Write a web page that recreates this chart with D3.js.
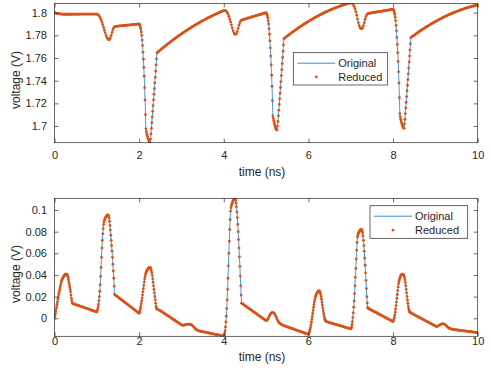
<!DOCTYPE html>
<html><head><meta charset="utf-8">
<script src="https://cdn.jsdelivr.net/npm/d3@7"></script>
<style>
body{margin:0;background:#fff}
svg{display:block}
text{font-family:"Liberation Sans",Arial,Helvetica,sans-serif;fill:#262626}
</style>
</head><body>
<svg id="chart" width="491" height="372"></svg>
<script>
// ---- data: base samples every 0.02 ns (t = 0 .. 10 ns) ----
const timeStep = 0.02;
const topVoltage = [
1.8000,1.7998,1.7996,1.7994,1.7992,1.7991,1.7990,1.7989,1.7988,1.7987,1.7987,1.7986,
1.7986,1.7986,1.7986,1.7986,1.7986,1.7986,1.7986,1.7986,1.7986,
1.7987,1.7987,1.7987,1.7987,1.7987,1.7987,1.7987,1.7987,1.7987,1.7987,
1.7988,1.7988,1.7988,1.7988,1.7988,1.7988,1.7988,1.7988,1.7988,1.7988,1.7988,1.7988,1.7988,1.7988,1.7988,1.7988,1.7988,1.7988,1.7988,1.7988,
1.7985,1.7978,1.7968,1.7955,1.7938,1.7918,1.7895,1.7870,1.7845,1.7820,1.7798,1.7780,1.7768,1.7762,1.7765,1.7778,1.7800,1.7826,1.7850,1.7868,1.7876,1.7879,
1.7880,1.7881,1.7881,1.7882,1.7883,1.7884,1.7884,1.7885,1.7886,1.7887,1.7887,1.7888,1.7889,1.7890,1.7890,1.7891,1.7892,1.7893,1.7893,1.7894,1.7895,1.7896,1.7896,1.7897,1.7898,1.7899,1.7899,1.7900,
1.7885,1.7855,1.7800,1.7710,1.7590,1.7440,1.7230,1.6975,1.6930,1.6905,1.6880,1.6862,1.6852,1.6930,1.7030,1.7130,1.7230,1.7330,1.7430,1.7540,1.7645,
1.7651,1.7658,1.7664,1.7670,1.7677,1.7683,1.7689,1.7695,1.7701,1.7707,1.7713,1.7719,1.7725,1.7730,1.7736,1.7742,1.7748,1.7753,1.7759,1.7765,
1.7770,1.7776,1.7781,1.7786,1.7792,1.7797,1.7802,1.7808,1.7813,1.7818,1.7823,1.7828,1.7833,1.7838,1.7843,1.7848,1.7853,1.7857,1.7862,1.7867,
1.7872,1.7876,1.7881,1.7885,1.7890,1.7894,1.7899,1.7903,1.7908,1.7912,1.7916,1.7920,1.7925,1.7929,1.7933,1.7937,1.7941,1.7945,1.7949,1.7953,
1.7956,1.7960,1.7964,1.7968,1.7971,1.7975,1.7978,1.7982,1.7985,1.7989,1.7992,1.7996,1.7999,1.8002,1.8006,1.8009,1.8012,1.8015,1.8018,
1.8020,1.8018,1.8012,1.8002,1.7988,1.7968,1.7945,1.7920,1.7893,1.7865,1.7840,1.7820,1.7810,1.7809,1.7816,1.7835,1.7862,1.7890,1.7913,1.7928,1.7935,
1.7937,1.7940,1.7942,1.7944,1.7946,1.7948,1.7951,1.7953,1.7955,1.7957,1.7960,1.7962,1.7964,1.7966,1.7968,1.7971,1.7973,1.7975,1.7977,1.7980,1.7982,1.7984,1.7986,1.7989,1.7991,1.7993,1.7995,1.7998,1.8000,
1.7985,1.7955,1.7900,1.7810,1.7690,1.7540,1.7350,1.7090,1.7050,1.7015,1.6990,1.6972,1.6965,1.7040,1.7140,1.7240,1.7340,1.7445,1.7550,1.7660,1.7770,
1.7776,1.7782,1.7788,1.7794,1.7799,1.7805,1.7811,1.7816,1.7822,1.7828,1.7833,1.7838,1.7844,1.7849,1.7854,1.7860,1.7865,1.7870,1.7875,1.7880,
1.7885,1.7890,1.7895,1.7900,1.7904,1.7909,1.7914,1.7918,1.7923,1.7928,1.7932,1.7936,1.7941,1.7945,1.7949,1.7954,1.7958,1.7962,1.7966,1.7970,
1.7974,1.7978,1.7982,1.7986,1.7989,1.7993,1.7997,1.8000,1.8004,1.8008,1.8011,1.8014,1.8018,1.8021,1.8024,1.8028,1.8031,1.8034,1.8037,1.8040,
1.8043,1.8046,1.8049,1.8052,1.8054,1.8057,1.8060,1.8062,1.8065,1.8068,1.8070,1.8072,1.8075,1.8077,1.8079,1.8082,1.8084,1.8086,1.8088,
1.8087,1.8082,1.8072,1.8056,1.8035,1.8008,1.7978,1.7945,1.7912,1.7885,1.7868,1.7860,1.7859,1.7866,1.7885,1.7912,1.7942,1.7966,1.7982,1.7990,1.7994,
1.7995,1.7996,1.7998,1.7999,1.8000,1.8001,1.8003,1.8004,1.8005,1.8006,1.8008,1.8009,1.8010,1.8011,1.8012,1.8014,1.8015,1.8016,1.8017,1.8019,1.8020,1.8021,1.8022,1.8024,1.8025,1.8026,1.8027,1.8029,1.8030,
1.8015,1.7985,1.7930,1.7840,1.7720,1.7570,1.7380,1.7110,1.7060,1.7030,1.7005,1.6985,1.6980,1.7060,1.7160,1.7260,1.7360,1.7460,1.7565,1.7670,1.7780,
1.7786,1.7791,1.7797,1.7802,1.7807,1.7813,1.7818,1.7823,1.7828,1.7834,1.7839,1.7844,1.7849,1.7854,1.7858,1.7863,1.7868,1.7873,1.7878,1.7882,
1.7887,1.7891,1.7896,1.7900,1.7905,1.7909,1.7913,1.7917,1.7922,1.7926,1.7930,1.7934,1.7938,1.7942,1.7946,1.7950,1.7953,1.7957,1.7961,1.7964,
1.7968,1.7972,1.7975,1.7979,1.7982,1.7985,1.7989,1.7992,1.7995,1.7998,1.8001,1.8004,1.8007,1.8010,1.8013,1.8016,1.8019,1.8022,1.8024,1.8027,
1.8030,1.8032,1.8035,1.8037,1.8040,1.8042,1.8044,1.8047,1.8049,1.8051,1.8053,1.8055,1.8057,1.8059,1.8061,1.8063,1.8065,1.8066,1.8068
];
const bottomVoltage = [
0.0000,0.0040,0.0085,0.0130,0.0175,0.0220,0.0260,0.0300,0.0335,0.0360,0.0375,0.0388,0.0400,0.0407,0.0408,0.0400,0.0375,0.0335,0.0290,0.0245,0.0185,0.0138,
0.0135,0.0132,0.0130,0.0127,0.0124,0.0121,0.0119,0.0116,0.0113,0.0110,0.0108,0.0105,0.0102,0.0099,0.0097,0.0094,0.0091,0.0088,0.0086,0.0083,0.0080,0.0077,0.0075,0.0072,0.0069,0.0066,0.0064,0.0061,0.0058,
0.0085,0.0130,0.0200,0.0310,0.0470,0.0650,0.0780,0.0865,0.0905,0.0925,0.0940,0.0950,0.0954,0.0945,0.0895,0.0815,0.0720,0.0620,0.0500,0.0370,0.0220,
0.0214,0.0208,0.0202,0.0196,0.0190,0.0184,0.0178,0.0172,0.0166,0.0160,0.0154,0.0148,0.0142,0.0136,0.0130,0.0124,0.0118,0.0112,0.0106,0.0100,0.0094,0.0088,0.0082,0.0076,0.0070,0.0064,0.0058,0.0052,0.0046,
0.0070,0.0110,0.0160,0.0215,0.0275,0.0335,0.0385,0.0420,0.0440,0.0452,0.0462,0.0468,0.0468,0.0455,0.0420,0.0365,0.0300,0.0235,0.0170,0.0110,0.0085,
0.0081,0.0078,0.0074,0.0070,0.0065,0.0060,0.0054,0.0049,0.0044,0.0039,0.0034,0.0028,0.0023,0.0018,0.0013,0.0008,0.0002,-0.0003,-0.0008,-0.0013,-0.0018,-0.0024,-0.0029,-0.0034,-0.0039,-0.0044,-0.0050,-0.0055,-0.0060,
-0.0063,-0.0064,-0.0063,-0.0061,-0.0058,-0.0056,-0.0055,-0.0054,-0.0054,-0.0055,-0.0057,-0.0061,-0.0067,-0.0075,-0.0084,-0.0093,-0.0101,-0.0107,-0.0111,-0.0114,-0.0117,
-0.0119,-0.0120,-0.0122,-0.0124,-0.0125,-0.0127,-0.0128,-0.0130,-0.0132,-0.0133,-0.0135,-0.0136,-0.0138,-0.0140,-0.0141,-0.0143,-0.0145,-0.0146,-0.0148,-0.0149,-0.0151,-0.0153,-0.0154,-0.0156,-0.0157,-0.0159,-0.0161,-0.0162,-0.0164,
-0.0140,-0.0080,0.0020,0.0170,0.0370,0.0600,0.0820,0.0990,0.1040,0.1065,0.1085,0.1100,0.1105,0.1090,0.1030,0.0930,0.0800,0.0650,0.0480,0.0300,0.0140,
0.0134,0.0129,0.0123,0.0118,0.0112,0.0106,0.0101,0.0095,0.0090,0.0084,0.0078,0.0073,0.0067,0.0062,0.0056,0.0050,0.0045,0.0039,0.0034,0.0028,0.0022,0.0017,0.0011,0.0006,0.0000,-0.0006,-0.0011,-0.0017,-0.0022,
-0.0018,-0.0008,0.0008,0.0025,0.0038,0.0047,0.0052,0.0053,0.0050,0.0042,0.0028,0.0010,-0.0008,-0.0024,-0.0036,-0.0045,-0.0052,-0.0057,-0.0061,-0.0065,-0.0068,
-0.0071,-0.0074,-0.0076,-0.0079,-0.0082,-0.0085,-0.0087,-0.0090,-0.0093,-0.0096,-0.0098,-0.0101,-0.0104,-0.0107,-0.0109,-0.0112,-0.0115,-0.0118,-0.0120,-0.0123,-0.0126,-0.0129,-0.0131,-0.0134,-0.0137,-0.0140,-0.0142,-0.0145,-0.0148,
-0.0130,-0.0100,-0.0060,-0.0010,0.0045,0.0100,0.0150,0.0190,0.0215,0.0232,0.0245,0.0252,0.0250,0.0235,0.0200,0.0150,0.0095,0.0045,0.0005,-0.0020,-0.0030,
-0.0032,-0.0035,-0.0037,-0.0039,-0.0042,-0.0044,-0.0046,-0.0049,-0.0051,-0.0053,-0.0056,-0.0058,-0.0060,-0.0063,-0.0065,-0.0067,-0.0070,-0.0072,-0.0074,-0.0077,-0.0079,-0.0081,-0.0084,-0.0086,-0.0088,-0.0091,-0.0093,-0.0095,-0.0098,
-0.0080,-0.0030,0.0050,0.0160,0.0300,0.0460,0.0630,0.0750,0.0785,0.0800,0.0812,0.0820,0.0818,0.0790,0.0720,0.0620,0.0490,0.0350,0.0200,0.0100,0.0090,
0.0086,0.0082,0.0078,0.0073,0.0069,0.0065,0.0061,0.0057,0.0053,0.0049,0.0044,0.0040,0.0036,0.0032,0.0028,0.0024,0.0020,0.0015,0.0011,0.0007,0.0003,-0.0001,-0.0005,-0.0009,-0.0014,-0.0018,-0.0022,-0.0026,-0.0030,
-0.0010,0.0030,0.0085,0.0150,0.0220,0.0290,0.0340,0.0370,0.0390,0.0402,0.0407,0.0405,0.0390,0.0355,0.0300,0.0235,0.0170,0.0110,0.0070,0.0055,0.0050,
0.0046,0.0042,0.0038,0.0033,0.0029,0.0025,0.0021,0.0017,0.0013,0.0008,0.0004,0.0000,-0.0004,-0.0008,-0.0013,-0.0017,-0.0021,-0.0025,-0.0029,-0.0033,-0.0038,-0.0042,-0.0046,-0.0050,-0.0054,-0.0058,-0.0063,-0.0067,-0.0071,-0.0075,
-0.0075,-0.0072,-0.0067,-0.0062,-0.0057,-0.0054,-0.0052,-0.0051,-0.0052,-0.0055,-0.0061,-0.0069,-0.0077,-0.0084,-0.0090,-0.0094,-0.0097,-0.0099,-0.0101,-0.0103,
-0.0104,-0.0105,-0.0106,-0.0107,-0.0108,-0.0109,-0.0110,-0.0111,-0.0112,-0.0113,-0.0114,-0.0115,-0.0116,-0.0117,-0.0118,-0.0119,-0.0120,-0.0121,-0.0122,-0.0123,-0.0124,-0.0125,-0.0126,-0.0127,-0.0128,-0.0129,-0.0130,-0.0131,-0.0132
];
// ---- extra samples in the fast transients: t = start + 0.01, 0.03, ..., 0.41 ns ----
const topFineStarts = [2, 5, 8];
const topFineVoltage = [
  [1.7894,1.7871,1.7830,1.7758,1.7652,1.7517,1.7338,1.7100,1.6950,1.6917,1.6892,1.6870,1.6855,1.6885,1.6980,1.7080,1.7180,1.7280,1.7380,1.7485,1.7592],
  [1.7994,1.7971,1.7930,1.7858,1.7752,1.7617,1.7448,1.7225,1.7068,1.7032,1.7002,1.6980,1.6967,1.7000,1.7090,1.7190,1.7290,1.7392,1.7497,1.7605,1.7715],
  [1.8024,1.8001,1.7960,1.7888,1.7782,1.7647,1.7478,1.7250,1.7083,1.7045,1.7017,1.6995,1.6982,1.7018,1.7110,1.7210,1.7310,1.7410,1.7512,1.7617,1.7725]
];
const bottomFineStarts = [0, 1, 2, 4, 6, 7, 8];
const bottomFineVoltage = [
  [0.0020,0.0062,0.0107,0.0152,0.0197,0.0240,0.0280,0.0318,0.0348,0.0368,0.0382,0.0394,0.0404,0.0408,0.0405,0.0390,0.0356,0.0312,0.0268,0.0215,0.0160],
  [0.0070,0.0105,0.0162,0.0250,0.0388,0.0562,0.0720,0.0828,0.0888,0.0916,0.0933,0.0946,0.0953,0.0952,0.0925,0.0858,0.0768,0.0670,0.0562,0.0437,0.0295],
  [0.0057,0.0089,0.0135,0.0187,0.0245,0.0305,0.0362,0.0405,0.0431,0.0447,0.0457,0.0466,0.0469,0.0463,0.0440,0.0395,0.0333,0.0268,0.0202,0.0138,0.0094],
  [-0.0156,-0.0114,-0.0034,0.0090,0.0268,0.0485,0.0712,0.0912,0.1020,0.1054,0.1076,0.1093,0.1104,0.1100,0.1063,0.0982,0.0868,0.0727,0.0567,0.0390,0.0215],
  [-0.0140,-0.0116,-0.0081,-0.0036,0.0017,0.0073,0.0126,0.0171,0.0204,0.0224,0.0239,0.0249,0.0252,0.0244,0.0219,0.0176,0.0123,0.0069,0.0024,-0.0009,-0.0026],
  [-0.0091,-0.0058,0.0007,0.0102,0.0227,0.0378,0.0547,0.0700,0.0770,0.0794,0.0806,0.0817,0.0821,0.0807,0.0760,0.0672,0.0557,0.0420,0.0275,0.0142,0.0094],
  [-0.0021,0.0009,0.0057,0.0117,0.0185,0.0256,0.0318,0.0357,0.0381,0.0397,0.0405,0.0407,0.0399,0.0375,0.0330,0.0268,0.0202,0.0139,0.0088,0.0061,0.0052]
];
const xTicks = [0, 2, 4, 6, 8, 10];
const topYTicks = [1.7, 1.72, 1.74, 1.76, 1.78, 1.8];
const topYTickLabels = ["1.7", "1.72", "1.74", "1.76", "1.78", "1.8"];
const bottomYTicks = [0, 0.02, 0.04, 0.06, 0.08, 0.1];
const bottomYTickLabels = ["0", "0.02", "0.04", "0.06", "0.08", "0.1"];
const seriesNames = ["Original", "Reduced"];
const xLabel = "time (ns)";
const yLabel = "voltage (V)";

// ---- drawing ----
const svg = d3.select("#chart");
const AX = "#262626";
const BLUE = "#2f8fd6";
const ORANGE = "#D95319";
const FONT = '"Liberation Sans",Arial,Helvetica,sans-serif';

function buildSeries(base, fineStarts, fineVals) {
  const pts = base.map((v, i) => ({t: i * timeStep, v}));
  fineStarts.forEach((s, w) => fineVals[w].forEach((v, k) => pts.push({t: s + 0.01 + k * timeStep, v})));
  return pts.sort((a, b) => a.t - b.t);
}

const panels = [
  {data: buildSeries(topVoltage, topFineStarts, topFineVoltage), domain: [1.6853, 1.8081],
   yTicks: topYTicks, yLabels: topYTickLabels,
   top: 3.5, bottom: 142.7, xPad: 8.5, titleY: 175.5, yLabelY: 80, legend: {x: 293.3, y: 52.7, w: 94.4, h: 32.3}},
  {data: buildSeries(bottomVoltage, bottomFineStarts, bottomFineVoltage), domain: [-0.0166, 0.1108],
   yTicks: bottomYTicks, yLabels: bottomYTickLabels,
   top: 198.3, bottom: 336.3, xPad: 0.5, titleY: 360.5, yLabelY: 274, legend: {x: 370, y: 205.7, w: 97.7, h: 32.6}}
];
const left = 54.5, right = 477.7;

panels.forEach((p, pi) => {
  const data = p.data;
  const x = d3.scaleLinear().domain([0, 10]).range([left, right]);
  const y = d3.scaleLinear().domain(p.domain).range([p.bottom, p.top]);
  const g = svg.append("g");

  const clipId = "clip" + pi;
  svg.append("clipPath").attr("id", clipId).append("rect")
    .attr("x", left).attr("y", p.top).attr("width", right - left).attr("height", p.bottom - p.top);

  const plot = g.append("g").attr("clip-path", `url(#${clipId})`);
  plot.append("path").datum(data)
    .attr("fill", "none").attr("stroke", BLUE).attr("stroke-width", 0.9)
    .attr("d", d3.line().x(d => x(d.t)).y(d => y(d.v)));
  plot.append("g").selectAll("circle").data(data).join("circle")
    .attr("cx", d => x(d.t)).attr("cy", d => y(d.v)).attr("r", 1.4).attr("fill", ORANGE);

  // axes
  const styleAxis = sel => {
    sel.select(".domain").remove();
    sel.selectAll(".tick line").attr("stroke", AX).attr("stroke-width", 0.7);
    sel.selectAll(".tick text").attr("fill", AX).style("font-size", "11px").style("font-family", FONT);
  };
  g.append("g").attr("transform", `translate(0,${p.bottom})`)
    .call(d3.axisBottom(x).tickValues(xTicks).tickSizeInner(-4).tickSizeOuter(0).tickPadding(p.xPad).tickFormat(d3.format("d")))
    .call(styleAxis);
  g.append("g").attr("transform", `translate(0,${p.top})`)
    .call(d3.axisTop(x).tickValues(xTicks).tickSizeInner(-4).tickSizeOuter(0).tickFormat(""))
    .call(styleAxis);
  g.append("g").attr("transform", `translate(${left},0)`)
    .call(d3.axisLeft(y).tickValues(p.yTicks).tickSizeInner(-4).tickSizeOuter(0).tickPadding(7.5)
      .tickFormat((d, i) => p.yLabels[i]))
    .call(styleAxis);
  g.append("g").attr("transform", `translate(${right},0)`)
    .call(d3.axisRight(y).tickValues(p.yTicks).tickSizeInner(-4).tickSizeOuter(0).tickFormat(""))
    .call(styleAxis);
  g.append("rect").attr("x", left).attr("y", p.top).attr("width", right - left).attr("height", p.bottom - p.top)
    .attr("fill", "none").attr("stroke", AX).attr("stroke-width", 0.7);

  // labels
  g.append("text").attr("x", 262).attr("y", p.titleY)
    .attr("text-anchor", "middle").style("font-size", "12px").text(xLabel);
  g.append("text").attr("transform", `translate(20,${p.yLabelY}) rotate(-90)`)
    .attr("text-anchor", "middle").style("font-size", "12px").text(yLabel);

  // legend
  const L = p.legend;
  const lg = g.append("g").attr("transform", `translate(${L.x},${L.y})`);
  lg.append("rect").attr("width", L.w).attr("height", L.h).attr("fill", "#fff")
    .attr("stroke", AX).attr("stroke-width", 0.7);
  const row1 = Math.round(L.h * 0.3) + 0.5, row2 = L.h * 0.75;
  lg.append("line").attr("x1", 4).attr("x2", 42).attr("y1", row1).attr("y2", row1)
    .attr("stroke", BLUE).attr("stroke-width", 1);
  lg.append("circle").attr("cx", 23).attr("cy", row2).attr("r", 1.4).attr("fill", ORANGE);
  lg.append("text").attr("x", 45).attr("y", row1 + 4).style("font-size", "11px").text(seriesNames[0]);
  lg.append("text").attr("x", 45).attr("y", row2 + 4).style("font-size", "11px").text(seriesNames[1]);
});
</script>
</body></html>
